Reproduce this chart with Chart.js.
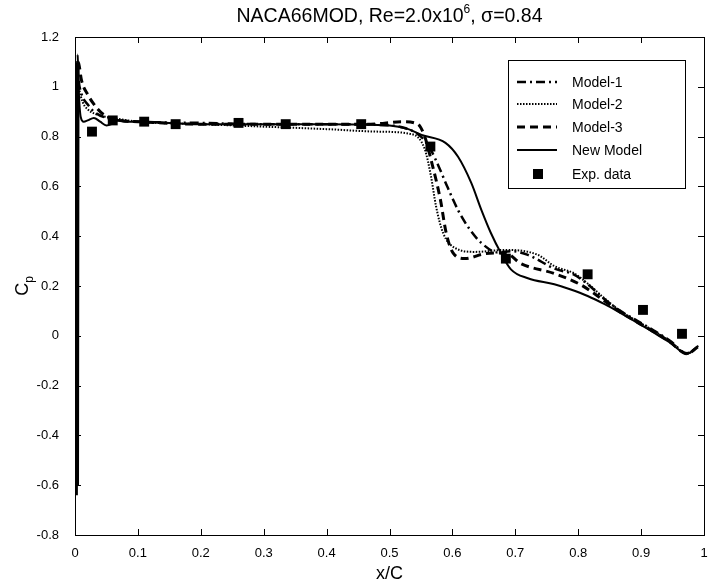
<!DOCTYPE html>
<html>
<head>
<meta charset="utf-8">
<script src="https://cdn.jsdelivr.net/npm/chart.js@4/dist/chart.umd.min.js"></script>
<style>
  html, body { margin: 0; padding: 0; background: #fff; }
  canvas { display: block; }
</style>
</head>
<body>
<canvas id="cp" width="711" height="584"></canvas>
<script>
// x/C, Cp pairs
var model1 = [[0.002, -0.6], [0.0025, 0.3], [0.003, 1.1], [0.006, 1.02], [0.012, 0.96], [0.02, 0.93], [0.03, 0.9],
  [0.05, 0.875], [0.07, 0.865], [0.1, 0.86], [0.2, 0.855], [0.3, 0.85], [0.4, 0.85], [0.5, 0.845], [0.53, 0.83],
  [0.55, 0.8], [0.565, 0.75], [0.58, 0.67], [0.59, 0.61], [0.61, 0.5], [0.628, 0.426], [0.646, 0.373],
  [0.672, 0.335], [0.693, 0.34], [0.72, 0.325], [0.762, 0.27], [0.794, 0.245], [0.815, 0.207], [0.842, 0.147],
  [0.867, 0.1], [0.894, 0.06], [0.921, 0.02], [0.946, -0.02], [0.973, -0.07], [0.99, -0.045]];

var model2 = [[0.001, -0.6], [0.0015, 0.4], [0.002, 1.08], [0.006, 1.0], [0.012, 0.94], [0.02, 0.91], [0.04, 0.885],
  [0.06, 0.875], [0.1, 0.86], [0.2, 0.85], [0.3, 0.84], [0.4, 0.83], [0.48, 0.82], [0.535, 0.81], [0.556, 0.75],
  [0.566, 0.64], [0.574, 0.52], [0.585, 0.414], [0.604, 0.353], [0.636, 0.337], [0.684, 0.345], [0.736, 0.325],
  [0.762, 0.28], [0.794, 0.25], [0.815, 0.21], [0.842, 0.15], [0.867, 0.1], [0.894, 0.058], [0.921, 0.018],
  [0.946, -0.022], [0.973, -0.072], [0.99, -0.045]];

var model3 = [[0.004, -0.6], [0.0045, 0.5], [0.005, 1.1], [0.007, 1.08], [0.01, 1.03], [0.02, 0.97], [0.03, 0.93],
  [0.04, 0.9], [0.055, 0.875], [0.07, 0.865], [0.1, 0.86], [0.2, 0.85], [0.3, 0.85], [0.4, 0.85], [0.47, 0.85],
  [0.52, 0.86], [0.545, 0.85], [0.556, 0.8], [0.566, 0.707], [0.581, 0.546], [0.59, 0.414], [0.601, 0.333],
  [0.62, 0.31], [0.652, 0.33], [0.684, 0.333], [0.709, 0.29], [0.762, 0.25], [0.804, 0.205], [0.842, 0.14],
  [0.867, 0.095], [0.894, 0.055], [0.921, 0.015], [0.946, -0.025], [0.973, -0.072], [0.99, -0.045]];

var newModel = [[0.003, -0.64], [0.0035, 0.2], [0.004, 1.13], [0.006, 0.98], [0.009, 0.88], [0.014, 0.86],
  [0.02, 0.865], [0.03, 0.875], [0.04, 0.86], [0.05, 0.845], [0.058, 0.85], [0.068, 0.865], [0.08, 0.86],
  [0.1, 0.86], [0.2, 0.85], [0.3, 0.85], [0.4, 0.85], [0.5, 0.845], [0.53, 0.83], [0.551, 0.807],
  [0.589, 0.775], [0.609, 0.719], [0.63, 0.614], [0.646, 0.506], [0.661, 0.414], [0.677, 0.333],
  [0.693, 0.267], [0.72, 0.231], [0.762, 0.207], [0.787, 0.187], [0.815, 0.16], [0.842, 0.127],
  [0.867, 0.092], [0.894, 0.052], [0.921, 0.012], [0.946, -0.028], [0.973, -0.072], [0.991, -0.04]];

var expData = [[0.027, 0.82], [0.06, 0.865], [0.11, 0.86], [0.16, 0.85], [0.26, 0.855], [0.335, 0.85],
  [0.455, 0.85], [0.565, 0.76], [0.685, 0.31], [0.815, 0.247], [0.903, 0.104], [0.965, 0.008]];

var xTicks = [0, 0.1, 0.2, 0.3, 0.4, 0.5, 0.6, 0.7, 0.8, 0.9, 1];
var yTicks = [-0.8, -0.6, -0.4, -0.2, 0, 0.2, 0.4, 0.6, 0.8, 1, 1.2];

var FONT = '"Liberation Sans", Arial, Helvetica, sans-serif';

function pts(list) {
  return list.map(function (p) { return { x: p[0], y: p[1] }; });
}

function lineSet(label, list, dash, width) {
  return {
    label: label,
    data: pts(list),
    showLine: true,
    borderColor: '#000',
    backgroundColor: '#000',
    borderWidth: width,
    borderDash: dash,
    pointRadius: 0,
    cubicInterpolationMode: 'monotone',
    // the leading-edge spike reads as one heavy solid stroke in the figure
    segment: {
      borderDash: function (c) { return c.p0DataIndex < 2 ? [] : undefined; }
    }
  };
}

var frame = {
  id: 'frame',
  afterDraw: function (chart) {
    var ctx = chart.ctx, a = chart.chartArea;
    var xs = chart.scales.x, ys = chart.scales.y;
    ctx.save();
    ctx.strokeStyle = '#000';
    ctx.lineWidth = 1;
    ctx.strokeRect(Math.round(a.left) + 0.5, Math.round(a.top) + 0.5,
      Math.round(a.right - a.left), Math.round(a.bottom - a.top));
    ctx.beginPath();
    xTicks.forEach(function (v) {
      var px = Math.round(xs.getPixelForValue(v)) + 0.5;
      ctx.moveTo(px, a.bottom); ctx.lineTo(px, a.bottom - 6);
      ctx.moveTo(px, a.top); ctx.lineTo(px, a.top + 6);
    });
    yTicks.forEach(function (v) {
      var py = Math.round(ys.getPixelForValue(v)) + 0.5;
      ctx.moveTo(a.left, py); ctx.lineTo(a.left + 6, py);
      ctx.moveTo(a.right, py); ctx.lineTo(a.right - 6, py);
    });
    ctx.stroke();

    // title with superscript
    ctx.fillStyle = '#000';
    ctx.textBaseline = 'alphabetic';
    var cx = (a.left + a.right) / 2;
    var p1 = 'NACA66MOD, Re=2.0x10', sup = '6', p2 = ', \u03c3=0.84';
    ctx.font = '19.5px ' + FONT;
    var w1 = ctx.measureText(p1).width, w2 = ctx.measureText(p2).width;
    ctx.font = '12px ' + FONT;
    var ws = ctx.measureText(sup).width;
    var x0 = cx - (w1 + ws + w2) / 2;
    ctx.font = '19.5px ' + FONT;
    ctx.textAlign = 'left';
    ctx.fillText(p1, x0, 22);
    ctx.font = '12px ' + FONT;
    ctx.fillText(sup, x0 + w1, 13);
    ctx.font = '19.5px ' + FONT;
    ctx.fillText(p2, x0 + w1 + ws, 22);

    // axis titles
    ctx.font = '18px ' + FONT;
    ctx.textAlign = 'center';
    ctx.fillText('x/C', cx, 579);
    ctx.save();
    ctx.translate(28, (a.top + a.bottom) / 2);
    ctx.rotate(-Math.PI / 2);
    ctx.textAlign = 'left';
    var wc = ctx.measureText('C').width;
    ctx.font = '12px ' + FONT;
    var wp = ctx.measureText('p').width;
    ctx.font = '18px ' + FONT;
    ctx.fillText('C', -(wc + wp) / 2, 0);
    ctx.font = '12px ' + FONT;
    ctx.fillText('p', -(wc + wp) / 2 + wc, 5);
    ctx.restore();
    ctx.restore();
  }
};

var boxLegend = {
  id: 'boxLegend',
  afterDatasetsDraw: function (chart) {
    var ctx = chart.ctx;
    var left = 508, top = 60, w = 177, h = 128;
    ctx.save();
    ctx.fillStyle = '#fff';
    ctx.fillRect(left, top, w, h);
    ctx.strokeStyle = '#000';
    ctx.lineWidth = 1;
    ctx.strokeRect(left + 0.5, top + 0.5, w, h);
    var rowY = [82, 104, 127, 150, 174];
    ctx.font = '14px ' + FONT;
    ctx.textBaseline = 'middle';
    chart.data.datasets.forEach(function (ds, i) {
      var y = rowY[i];
      ctx.fillStyle = '#000';
      if (ds.showLine) {
        ctx.beginPath();
        ctx.setLineDash(ds.borderDash || []);
        ctx.lineWidth = ds.borderWidth;
        ctx.strokeStyle = '#000';
        ctx.moveTo(517, y); ctx.lineTo(557, y);
        ctx.stroke();
        ctx.setLineDash([]);
      } else {
        ctx.fillRect(533, y - 5, 10, 10);
      }
      ctx.fillText(ds.label, 572, y + 1);
    });
    ctx.restore();
  }
};

new Chart(document.getElementById('cp'), {
  type: 'scatter',
  data: {
    datasets: [
      lineSet('Model-1', model1, [9, 4, 2, 4], 2.5),
      lineSet('Model-2', model2, [1.5, 1.5], 2),
      lineSet('Model-3', model3, [8, 5], 3),
      lineSet('New Model', newModel, [], 2),
      {
        label: 'Exp. data',
        data: pts(expData),
        showLine: false,
        pointStyle: 'rect',
        pointRadius: 7,
        backgroundColor: '#000',
        borderColor: '#000',
        borderWidth: 0
      }
    ]
  },
  options: {
    responsive: false,
    animation: false,
    layout: { padding: { top: 37, right: 0, left: 0, bottom: 0 } },
    plugins: {
      legend: { display: false },
      title: { display: false },
      tooltip: { enabled: false }
    },
    scales: {
      x: {
        type: 'linear',
        min: 0,
        max: 1,
        grid: { display: false },
        border: { display: false },
        afterBuildTicks: function (scale) {
          scale.ticks = xTicks.map(function (v) { return { value: v }; });
        },
        afterFit: function (scale) {
          scale.height = 49;
          scale.paddingLeft = 0;
          scale.paddingRight = 4;
        },
        ticks: {
          padding: 3,
          color: '#000',
          font: { family: FONT, size: 13 },
          callback: function (v) { return String(Math.round(v * 10) / 10); }
        }
      },
      y: {
        min: -0.8,
        max: 1.2,
        grid: { display: false },
        border: { display: false },
        afterBuildTicks: function (scale) {
          scale.ticks = yTicks.map(function (v) { return { value: v }; });
        },
        afterFit: function (scale) { scale.width = 75; },
        ticks: {
          padding: 8,
          color: '#000',
          font: { family: FONT, size: 13 },
          callback: function (v) { return String(Math.round(v * 10) / 10); }
        }
      }
    }
  },
  plugins: [frame, boxLegend]
});
</script>
</body>
</html>
